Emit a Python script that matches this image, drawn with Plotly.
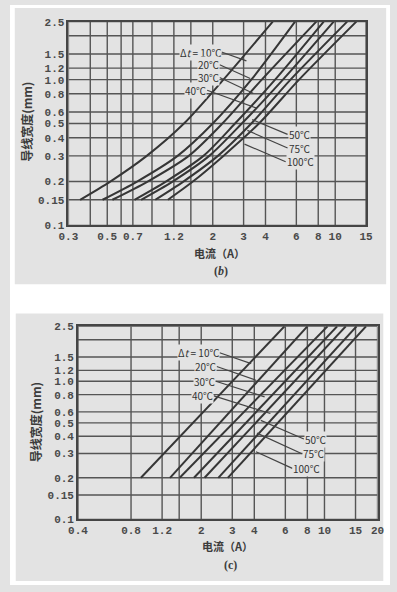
import numpy as np
import plotly.graph_objects as go

W, H = 397, 592

# ---------------- data: chart (b) ----------------
temps = ["Δ<i>t</i> = 10℃", "20℃", "30℃", "40℃", "50℃", "75℃", "100℃"]
b_width = [0.15, 0.2, 0.3, 0.5, 1.0, 2.5]          # 导线宽度 (mm)
b_i10 = [0.35, 0.52, 0.84, 1.37, 2.30, 4.4]         # 电流 (A)
b_i20 = [0.47, 0.74, 1.26, 2.00, 3.32, 5.9]
b_i30 = [0.535, 0.85, 1.46, 2.27, 3.81, 7.8]
b_i40 = [0.715, 1.08, 1.77, 2.68, 4.54, 8.6]
b_i50 = [0.78, 1.18, 1.91, 2.93, 5.03, 9.8]
b_i75 = [0.94, 1.36, 2.14, 3.32, 5.56, 11.7]
b_i100 = [1.11, 1.54, 2.30, 3.67, 6.22, 13.2]

# ---------------- data: chart (c) ----------------
c_width = [0.2, 2.5]
c_i10 = [0.91, 5.93]
c_i20 = [1.33, 8.0]
c_i30 = [1.51, 10.4]
c_i40 = [1.82, 11.8]
c_i50 = [2.09, 13.2]
c_i75 = [2.50, 15.2]
c_i100 = [2.83, 17.2]

# ---------------- axis ticks / grid ----------------
b_xgrid = [0.3, 0.4, 0.5, 0.6, 0.7, 0.9, 1.2, 1.5, 2, 3, 4, 6, 8, 10, 15]
b_xlab = ["0.3", "", "0.5", "", "0.7", "", "1.2", "", "2", "3", "4", "6", "8", "10", "15"]
c_xgrid = [0.4, 0.8, 1.2, 1.5, 2, 3, 4, 6, 8, 10, 15, 20]
c_xlab = ["0.4", "0.8", "1.2", "", "2", "3", "4", "6", "8", "10", "15", "20"]
ygrid = [0.1, 0.15, 0.2, 0.3, 0.4, 0.5, 0.6, 0.8, 1.0, 1.2, 1.5, 2.0, 2.5]
ylab = ["0.1", "0.15", "0.2", "0.3", "0.4", "0.5", "0.6", "0.8", "1.0", "1.2", "1.5", "", "2.5"]

PAPER = "#e3e3e3"
GRID = "#555555"
CURVE = "#363636"
TXT = "#4a4a4a"
MONO = "Liberation Mono, DejaVu Sans Mono, monospace"
CJK = "Noto Sans CJK SC, sans-serif"


def P(px, py):
    return px / W, 1 - py / H


fig = go.Figure()


def grid_trace(xvals, yvals, xa, ya):
    gx, gy = [], []
    for v in xvals:
        gx += [v, v, None]
        gy += [yvals[0], yvals[-1], None]
    for v in yvals:
        gx += [xvals[0], xvals[-1], None]
        gy += [v, v, None]
    fig.add_trace(go.Scatter(x=gx, y=gy, mode="lines", line=dict(color=GRID, width=1.4),
                             xaxis=xa, yaxis=ya, hoverinfo="skip", showlegend=False))


grid_trace(b_xgrid, ygrid, "x", "y")
grid_trace(c_xgrid, ygrid, "x2", "y2")

b_series = [b_i10, b_i20, b_i30, b_i40, b_i50, b_i75, b_i100]
c_series = [c_i10, c_i20, c_i30, c_i40, c_i50, c_i75, c_i100]
for name, xs in zip(temps, b_series):
    fig.add_trace(go.Scatter(x=xs, y=b_width, mode="lines", name=name,
                             line=dict(color=CURVE, width=2, shape="spline", smoothing=0.8),
                             xaxis="x", yaxis="y", showlegend=False))
for name, xs in zip(temps, c_series):
    fig.add_trace(go.Scatter(x=xs, y=c_width, mode="lines", name=name,
                             line=dict(color=CURVE, width=2),
                             xaxis="x2", yaxis="y2", showlegend=False))

axis_common = dict(type="log", showgrid=False,
                   showline=True, mirror=True, linecolor="#454545", linewidth=1.6,
                   ticks="", ticklen=0, zeroline=False,
                   tickfont=dict(family=MONO, size=11, color=TXT, weight="bold"))

shapes = []
# white page outside the two scanned panels (panels = paper colour)
for (x0, y0, x1, y1) in [(0, 0, W, 3), (0, 285, W, 315), (0, 588, W, H),
                         (0, 0, 5, H), (393, 0, W, 300), (390, 300, W, H), (0, 300, 6, H)]:
    a0, b0 = P(x0, y1)
    a1, b1 = P(x1, y0)
    shapes.append(dict(type="rect", xref="paper", yref="paper", x0=a0, y0=b0, x1=a1, y1=b1,
                       fillcolor="white", line=dict(width=0), layer="below"))

annotations = []


def label(text, px, py, anchor):
    x, y = P(px, py)
    annotations.append(dict(text=text, x=x, y=y, xref="paper", yref="paper",
                            xanchor=anchor, yanchor="middle", showarrow=False,
                            bgcolor=PAPER, borderpad=0,
                            font=dict(family=CJK, size=10, color="#333")))


def leader(p0, p1):
    x0, y0 = P(*p0)
    x1, y1 = P(*p1)
    shapes.append(dict(type="line", xref="paper", yref="paper", x0=x0, y0=y0, x1=x1, y1=y1,
                       line=dict(color="#444", width=1.2), layer="above"))


# label anchor (text end), y, leader end
b_left = [(221, 48, (247, 57)), (219, 61, (251, 75)), (219, 74, (254, 90)), (206, 87, (257, 105))]
b_right = [(290, 132, (253, 117)), (290, 146, (248, 128)), (288, 160, (245, 142))]
c_left = [(219, 355, (252, 366)), (216, 369, (257, 383)), (215, 384, (266, 400)), (213, 399, (272, 417))]
c_right = [(307, 443, (262, 424)), (305, 458, (258, 437)), (295, 473, (257, 456))]

for t, (px, py, end) in zip(temps[:4], b_left):
    leader((px, py), end)
    label(t, px, py, "right")
for t, (px, py, end) in zip(temps[4:], b_right):
    leader((px, py), end)
    label(t, px, py, "left")
for t, (px, py, end) in zip(temps[:4], c_left):
    leader((px, py), end)
    label(t, px, py, "right")
for t, (px, py, end) in zip(temps[4:], c_right):
    leader((px, py), end)
    label(t, px, py, "left")


def title(text, px, py, size, angle=0, fam=CJK):
    x, y = P(px, py)
    annotations.append(dict(text=text, x=x, y=y, xref="paper", yref="paper",
                            xanchor="center", yanchor="middle", showarrow=False, textangle=angle,
                            font=dict(family=fam, size=size, color="#3c3c3c", weight="bold")))


title("导线宽度(mm)", 17, 119, 12, angle=-90)
title("导线宽度(mm)", 27, 426, 12, angle=-90)
title("电流（A）", 219, 253, 11)
title("电流（A）", 227, 552, 11)
title("(<i>b</i>)", 220, 272, 12, fam="Liberation Serif, serif")
title("(c)", 230, 572, 12, fam="Liberation Serif, serif")

fig.update_layout(
    width=W, height=H, margin=dict(l=0, r=0, t=0, b=0),
    paper_bgcolor=PAPER, plot_bgcolor=PAPER,
    xaxis=dict(axis_common, domain=[61 / W, 372 / W], range=[np.log10(0.3), np.log10(15)],
               tickvals=b_xgrid, ticktext=b_xlab, anchor="y"),
    yaxis=dict(axis_common, domain=[1 - 225 / H, 1 - 17 / H], range=[np.log10(0.1), np.log10(2.5)],
               tickvals=ygrid, ticktext=ylab, anchor="x"),
    xaxis2=dict(axis_common, domain=[71 / W, 384 / W], range=[np.log10(0.4), np.log10(20)],
                tickvals=c_xgrid, ticktext=c_xlab, anchor="y2"),
    yaxis2=dict(axis_common, domain=[1 - 525 / H, 1 - 328 / H], range=[np.log10(0.1), np.log10(2.5)],
                tickvals=ygrid, ticktext=ylab, anchor="x2"),
    shapes=shapes, annotations=annotations,
)

fig.write_html("out.html", config={"displayModeBar": False},
               post_script="document.body.style.margin='0';document.body.style.overflow='hidden';")
